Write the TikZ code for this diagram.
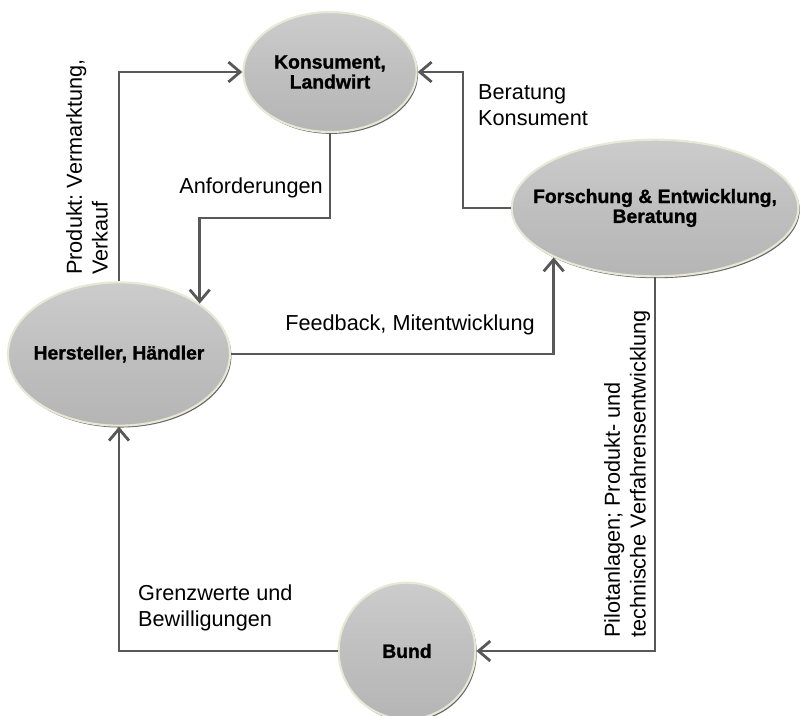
\documentclass[tikz,border=0pt]{standalone}
\usepackage{fontspec}
\setmainfont{Liberation Sans}
\newfontfamily\heavyfont[FakeBold=1.2]{Liberation Sans Bold}
\frenchspacing
\usetikzlibrary{positioning, arrows.meta, calc, shapes.geometric, shadows}
\definecolor{rimcream}{RGB}{232, 232, 214}
\definecolor{linegray}{RGB}{88, 88, 88}

\begin{document}
\begin{tikzpicture}[
    x=0.03cm, y=-0.03cm,
    >={Straight Barb[length=10pt, width=17pt]},
    bubble/.style={
        ellipse,
        draw=rimcream,
        line width=1.8pt,
        top color=black!20,
        bottom color=black!29,
        middle color=black!25,
        inner sep=0pt,
        drop shadow={shadow xshift=1.2pt, shadow yshift=-1.6pt, fill=black!60, opacity=1},
    },
    bubbletext/.style={
        font=\fontsize{16.5}{17}\heavyfont,
        align=center,
        inner sep=0pt,
    },
    flowtext/.style={
        font=\fontsize{18.5}{22}\selectfont,
        align=left,
        inner sep=0pt,
    },
    flow/.style={->, draw=linegray, line width=2.4pt},
]

\useasboundingbox (0,0) rectangle (800,715);

% -- Actors
\node[bubble, minimum width=5.2cm, minimum height=3.6cm,
      label={[bubbletext]center:Konsument,\\Landwirt}] (konsument) at (330, 72) {};
\node[bubble, minimum width=8.6cm, minimum height=4.1cm,
      label={[bubbletext]center:Forschung \& Entwicklung,\\Beratung}] (forschung) at (655, 208) {};
\node[bubble, minimum width=6.66cm, minimum height=4.3cm,
      label={[bubbletext]center:Hersteller, Händler}] (hersteller) at (119, 354) {};
\node[bubble, minimum width=4.1cm, minimum height=4.1cm,
      label={[bubbletext]center:Bund}] (bund) at (407, 651) {};

% ===== Arrows =====

% Hersteller -> Konsument
\draw[flow] (hersteller.north) |- (konsument.west);

% Konsument -> Hersteller (Anforderungen)
\coordinate (anfbend) at (hersteller.32 |- 0,218);
\draw[flow] (konsument.south) |- (anfbend) -- (hersteller.32);

% Forschung -> Konsument
\coordinate (berbend) at (463,0 |- konsument.east);
\draw[flow] (forschung.west) -| (berbend) -- (konsument.east);

% Hersteller -> Forschung
\coordinate (fbend) at (forschung.206 |- hersteller.east);
\draw[flow] (hersteller.east) -- (fbend) -- (forschung.206);

% Forschung -> Bund
\draw[flow] (forschung.south) |- (bund.east);

% Bund -> Hersteller
\draw[flow] (bund.west) -| (hersteller.south);

% ===== Labels =====
\node[flowtext, rotate=90, anchor=north west] (produktlbl) at (66, 275) {Produkt: Vermarktung,\\Verkauf};
\node[flowtext] (anflbl) at (251, 188) {Anforderungen};
\node[flowtext, anchor=west] (beratlbl) at (478, 105) {Beratung\\Konsument};
\node[flowtext] (feedbacklbl) at (410, 325) {Feedback, Mitentwicklung};
\node[flowtext, rotate=90, anchor=north west] (pilotlbl) at (604, 638) {Pilotanlagen; Produkt- und\\technische Verfahrensentwicklung};
\node[flowtext, anchor=west] (grenzlbl) at (138, 608) {Grenzwerte und\\Bewilligungen};

\end{tikzpicture}
\end{document}
